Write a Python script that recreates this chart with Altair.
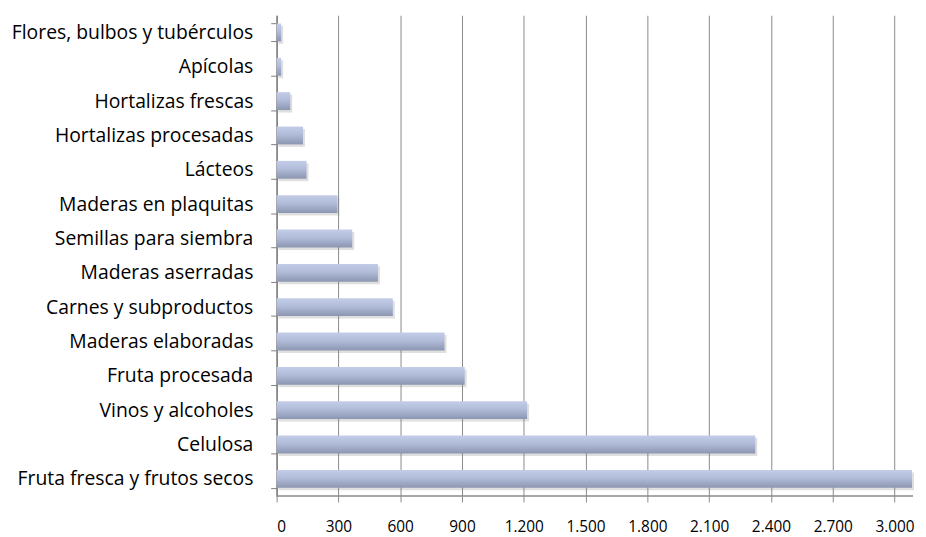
import altair as alt
import pandas as pd

categories = [
    "Flores, bulbos y tubérculos",
    "Apícolas",
    "Hortalizas frescas",
    "Hortalizas procesadas",
    "Lácteos",
    "Maderas en plaquitas",
    "Semillas para siembra",
    "Maderas aserradas",
    "Carnes y subproductos",
    "Maderas  elaboradas",
    "Fruta procesada",
    "Vinos y alcoholes",
    "Celulosa",
    "Fruta fresca y frutos secos",
]
values = [22, 22, 66, 128, 145, 295, 367, 492, 564, 815, 913, 1216, 2324, 3085]
tick_values = [0, 300, 600, 900, 1200, 1500, 1800, 2100, 2400, 2700, 3000]

df = pd.DataFrame({"cat": categories, "val": values})

FONT = "Open Sans"

xscale = alt.Scale(domain=[0, 3090], nice=False, zero=True)
yscale = alt.Scale(domain=categories, paddingInner=0.48, paddingOuter=0.24)

X = alt.X(
    "val:Q",
    scale=xscale,
    title=None,
    axis=alt.Axis(
        values=tick_values,
        labelExpr="replace(format(datum.value, ',d'), ',', '.')",
        grid=True,
        gridColor="#8a8a8a",
        gridWidth=1,
        domain=False,
        ticks=True,
        tickColor="#8a8a8a",
        tickSize=6,
        labelPadding=18,
        labelFont=FONT,
        labelFontSize=15.5,
        labelColor="#000000",
        labelBound=False,
        labelOverlap=False,
    ),
)
Y = alt.Y(
    "cat:N",
    scale=yscale,
    sort=categories,
    title=None,
    axis=alt.Axis(
        grid=False,
        domainColor="#7f7f7f",
        domainWidth=1.5,
        tickColor="#7f7f7f",
        tickSize=6,
        tickBand="extent",
        labelPadding=18,
        labelFont=FONT,
        labelFontSize=19.5,
        labelColor="#000000",
        labelLimit=400,
    ),
)

base = alt.Chart(df)

shadow = base.mark_bar(color="#7f7f7f", opacity=0.25, xOffset=2, yOffset=2.5).encode(x=X, y=Y)

bars = base.mark_bar(
    color=alt.Gradient(
        gradient="linear",
        x1=0, x2=0, y1=0, y2=1,
        stops=[
            alt.GradientStop(offset=0, color="#c3cde8"),
            alt.GradientStop(offset=0.45, color="#b1bcda"),
            alt.GradientStop(offset=1, color="#8c96b0"),
        ],
    )
).encode(x=X, y=Y)

xline = alt.Chart(pd.DataFrame({"v": [0]})).mark_rule(color="#8a8a8a", strokeWidth=1.5).encode(
    y=alt.value(485), x=alt.value(0), x2=alt.value(642)
)

chart = alt.layer(shadow, bars, xline).properties(
    width=642,
    height=485,
    autosize=alt.AutoSizeParams(type="none"),
    padding={"left": 271, "top": 5, "right": 5, "bottom": 40},
    background="#ffffff",
).configure_view(stroke=None)

chart.save("out.html", embed_options={"renderer": "svg", "actions": False})
